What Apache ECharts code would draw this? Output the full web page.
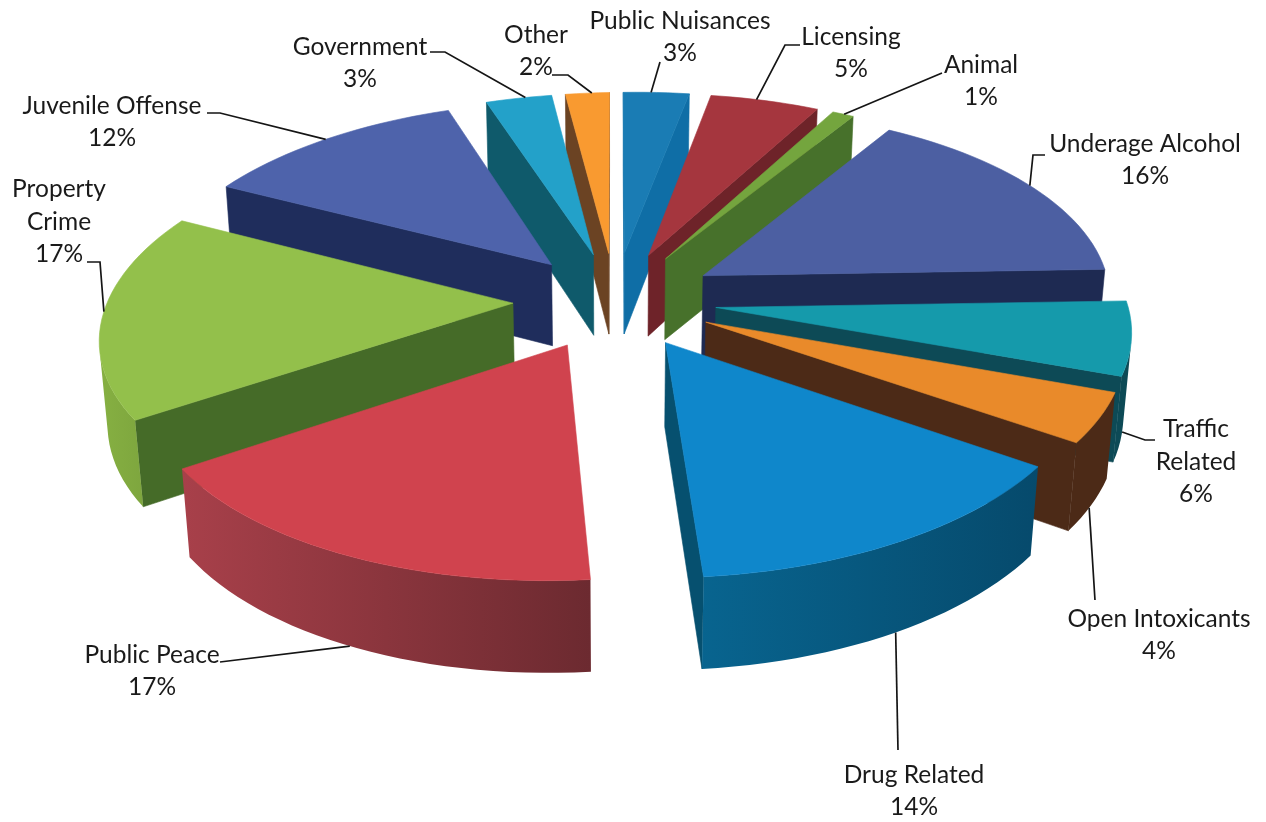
<!DOCTYPE html>
<html><head><meta charset="utf-8">
<style>html,body{margin:0;padding:0;background:#fff}#c{width:1266px;height:822px}</style>
<script src="https://cdn.jsdelivr.net/npm/echarts@6/dist/echarts.min.js"></script>
</head><body><div id="c"></div>
<script>
// ---- data, clockwise from twelve o'clock ----
const categories = ['Public Nuisances','Licensing','Animal','Underage Alcohol','Traffic Related','Open Intoxicants','Drug Related','Public Peace','Property Crime','Juvenile Offense','Government','Other'];
const sliceValues = [3,5,1,16,6,4,14,17,17,12,3,2];

// ---- colours ----
const topColors  = ['#1a7cb4','#a5363e','#74a53e','#4c5fa2','#159aab','#e98a2a','#0f87cb','#d0434e','#93c04b','#4e63ab','#23a1c9','#f99a30'];
const cutColors  = ['#0f6ea6','#6e2329','#47712b','#1e2a52','#0d4a56','#4c2a17','#06506f','#7a2a30','#456b28','#1f2d5c','#0f5a6b','#6b4323'];
const rimLeft    = ['#0f6ea6','#6e2329','#47712b','#1e2a52','#0d4a56','#4c2a17','#08648f','#a8404a','#86b042','#1f2d5c','#0f5a6b','#6b4323'];
const rimRight   = ['#0f6ea6','#6e2329','#47712b','#1e2a52','#0d4a56','#4c2a17','#064a6c','#6c2a30','#7ea63e','#1f2d5c','#0f5a6b','#6b4323'];

// ---- layout ----
const cam = {cx:615, cy:300, R:408, explode:102, D:2800, pitch:28.2, h:95, rot:0, roll:0.016};
const labelText = ['Public Nuisances','Licensing','Animal','Underage Alcohol','Traffic\nRelated','Open Intoxicants','Drug Related','Public Peace','Property\nCrime','Juvenile Offense','Government','Other'];
const labelCentre = [[680,37],[851,53],[981,81],[1145,160],[1196,462],[1159,635],[914,791],[152,671],[59,222],[112,122],[360,63],[536,51]];
const leaderKnees = [
  [[660,62]],[[800,45],[785,45]],[[942,73]],[[1045,155],[1033,155]],[[1155,440],[1145,440]],[[1095,600]],
  [[898,750]],[[220,662]],[[87,262],[100,262]],[[207,113],[220,113]],[[430,52],[445,52]],[[552,75],[568,75]]];
// where on the rim each leader lands: fraction through the slice, fraction down the wall
const leaderAnchor = [[.42,0],[.42,0],[.55,0],[.5,0],[.62,1],[.55,1],[.5,1],[.5,1],[.52,0],[.5,0],[.6,0],[.6,0]];

const total = sliceValues.reduce((a,b)=>a+b,0);
const rot0 = cam.rot*Math.PI/180;
const sp = Math.sin(cam.pitch*Math.PI/180), cp = Math.cos(cam.pitch*Math.PI/180);
function project(X,Y,Z){
  const w = cam.D - Y*cp - Z*sp;
  const sx = cam.D*X/w;
  return [cam.cx + sx, cam.cy + cam.D*(Y*sp - Z*cp)/w - cam.roll*sx];
}
function area(p){let s=0;for(let i=0;i<p.length;i++){const q=p[(i+1)%p.length];s+=p[i][0]*q[1]-q[0]*p[i][1];}return s;}
const starts=[];{let c=0;for(const v of sliceValues){starts.push(c);c+=v;}}
const mids = sliceValues.map((v,i)=>(starts[i]+v/2)/total*2*Math.PI+rot0);
const order = mids.map((m,i)=>[-Math.cos(m),i]).sort((a,b)=>a[0]-b[0]).map(x=>x[1]);
const rank = []; order.forEach((idx,r)=>rank[idx]=r);

function renderSlice(params, api){
  const i = params.dataIndex, v = api.value(0);
  const a0 = starts[i]/total*2*Math.PI+rot0, a1 = (starts[i]+v)/total*2*Math.PI+rot0, m=(a0+a1)/2;
  const ox = Math.sin(m)*cam.explode, oy = -Math.cos(m)*cam.explode;
  const pt = (a,r,z)=>project(ox+Math.sin(a)*r, oy-Math.cos(a)*r, z);
  const n = Math.max(4,Math.ceil((a1-a0)/(Math.PI/90)));
  const angs=[];for(let k=0;k<=n;k++)angs.push(a0+(a1-a0)*k/n);
  const Zb=-cam.h, kids=[], z0=rank[i]*10+1;
  const stroke=(c)=>({fill:c,stroke:c,lineWidth:.6,lineJoin:'round'});
  // cut faces
  const w0=[pt(a0,0,0),pt(a0,cam.R,0),pt(a0,cam.R,Zb),pt(a0,0,Zb)];
  const w1=[pt(a1,0,0),pt(a1,cam.R,0),pt(a1,cam.R,Zb),pt(a1,0,Zb)];
  if(area(w0)<0)kids.push({type:'polygon',z2:z0,shape:{points:w0},style:stroke(cutColors[i])});
  if(area(w1)>0)kids.push({type:'polygon',z2:z0,shape:{points:w1},style:stroke(cutColors[i])});
  // rim
  const vis=[];
  for(let k=0;k<n;k++){
    const q=[pt(angs[k],cam.R,0),pt(angs[k+1],cam.R,0),pt(angs[k+1],cam.R,Zb),pt(angs[k],cam.R,Zb)];
    if(area(q)<0)vis.push(k);
  }
  if(vis.length){
    const up=[],dn=[];
    for(let k=vis[0];k<=vis[vis.length-1]+1;k++){up.push(pt(angs[k],cam.R,0));dn.unshift(pt(angs[k],cam.R,Zb));}
    kids.push({type:'polygon',z2:z0+1,shape:{points:up.concat(dn)},style:{
      fill:new echarts.graphic.LinearGradient(0,0,1,0,[{offset:0,color:rimLeft[i]},{offset:1,color:rimRight[i]}]),lineWidth:0}});
  }
  // top
  const top=[pt(a0,0,0)];angs.forEach(a=>top.push(pt(a,cam.R,0)));
  kids.push({type:'polygon',z2:z0+2,shape:{points:top},style:stroke(topColors[i])});
  // leader + label
  const anc=leaderAnchor[i];
  const ap=pt(a0+(a1-a0)*anc[0],cam.R,Zb*anc[1]);
  kids.push({type:'polyline',z2:500,shape:{points:leaderKnees[i].concat([ap])},style:{stroke:'#151515',lineWidth:1.7,fill:null}});
  kids.push({type:'text',z2:501,x:labelCentre[i][0],y:labelCentre[i][1],style:{
    text:labelText[i]+'\n'+v+'%',align:'center',verticalAlign:'middle',textAlign:'center',textVerticalAlign:'middle',
    font:'24.5px Lato, "Open Sans", sans-serif',lineHeight:32.5,fill:'#1a1a1a'}});
  return {type:'group',children:kids};
}

const chart = echarts.init(document.getElementById('c'),null,{renderer:'canvas'});
chart.setOption({
  animation:false,
  backgroundColor:'#ffffff',
  series:[{type:'custom',coordinateSystem:'none',silent:true,clip:false,
    renderItem:renderSlice,
    encode:{value:0,itemName:1},
    data:sliceValues.map((v,i)=>({name:categories[i],value:[v]}))}]
});
</script></body></html>
